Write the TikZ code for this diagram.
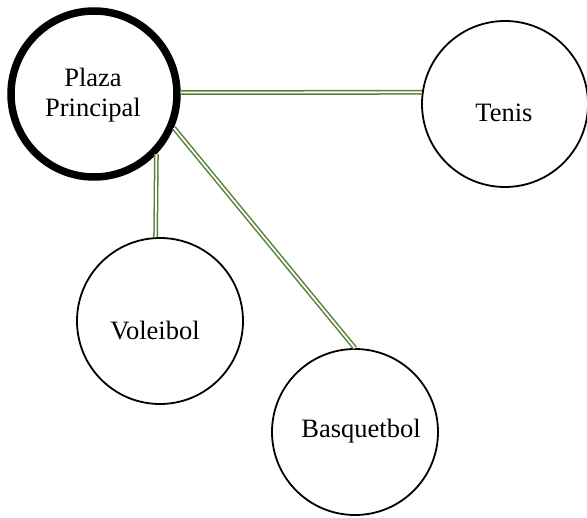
\documentclass[tikz,border=0pt]{standalone}
\usepackage{fontspec}
\setmainfont{Liberation Serif}
\definecolor{lnkgreen}{RGB}{84,130,53}
\begin{document}
\begin{tikzpicture}[x=1pt,y=-1pt,
  place/.style={circle,draw=black,line width=1.8pt,minimum size=166pt,inner sep=0pt,fill=white},
  hub/.style={place,line width=7.5pt,minimum size=166pt},
  txt/.style={font=\fontsize{26.5}{30}\selectfont,align=center},
  path2/.style={draw=lnkgreen,double=white,double distance=1.8pt,line width=1.5pt}]
\useasboundingbox (0,0) rectangle (587,518);
\node[hub] (plaza) at (94,94) {};
\node[txt] (plazat) at (93,95) {Plaza\\Principal};
\node[place] (tenis) at (505,104) {};
\node[txt] (tenist) at (504,113) {Tenis};
\node[place] (volei) at (160,321) {};
\node[txt] (voleit) at (155,331) {Voleibol};
\node[place] (basq) at (355,432) {};
\node[txt] (basqt) at (361,431) {Basquetbol};
\draw[path2] (plaza.1) -- (tenis.172);
\draw[path2] (plaza.-44.5) -- (volei.93);
\draw[path2] (plaza.-23.6) -- (basq.north);
\end{tikzpicture}
\end{document}
